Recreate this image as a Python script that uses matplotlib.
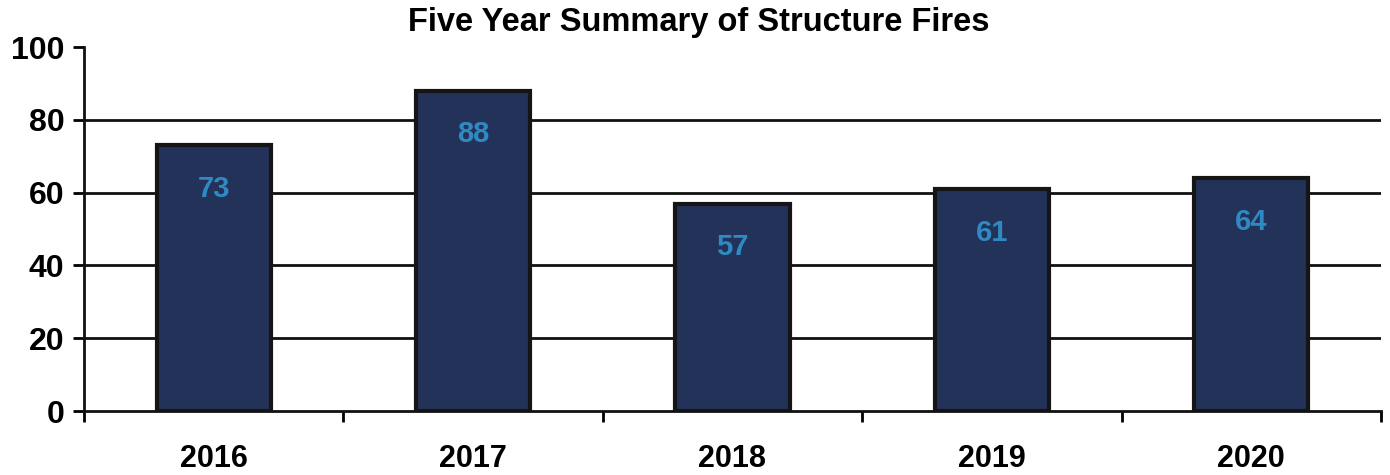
import numpy as np
import matplotlib.pyplot as plt

years = ["2016", "2017", "2018", "2019", "2020"]
fires = [73, 88, 57, 61, 64]
yticks = [0, 20, 40, 60, 80, 100]

plt.rcParams['font.family'] = ['Liberation Sans', 'DejaVu Sans']

fig = plt.figure(figsize=(13.9, 4.75), dpi=100)
ax = fig.add_axes([0.0604, 0.1347, 0.9331, 0.7663])

x = np.arange(len(years))
bars = ax.bar(x, fires, width=0.44, color='#233258', edgecolor='#151515',
              linewidth=3, zorder=3)

for xi, v in zip(x, fires):
    ax.text(xi, v - 12, str(v), ha='center', va='center', fontsize=21,
            fontweight='bold', color='#2f8ac4', zorder=4)

# horizontal grid lines (no line at 100)
for g in yticks[1:-1]:
    ax.axhline(g, color='#111111', linewidth=2, zorder=1)

ax.set_xlim(-0.5, len(years) - 0.5)
ax.set_ylim(0, 100)
ax.set_yticks(yticks)
ax.set_yticklabels([str(t) for t in yticks], fontsize=23, fontweight='bold')

ax.set_xticks(x)
ax.set_xticklabels(years, fontsize=22, fontweight='bold')
ax.tick_params(axis='x', which='major', length=0, pad=24)
ax.set_xticks(np.arange(len(years) + 1) - 0.5, minor=True)
ax.tick_params(axis='x', which='minor', length=8, width=2, direction='out')
ax.tick_params(axis='y', length=8, width=2, direction='out', pad=6)

for s in ['top', 'right']:
    ax.spines[s].set_visible(False)
for s in ['left', 'bottom']:
    ax.spines[s].set_linewidth(2)
    ax.spines[s].set_color('#111111')

fig.text(0.503, 0.953, "Five Year Summary of Structure Fires", ha='center',
         va='center', fontsize=23.5, fontweight='bold')

fig.savefig("out.png", dpi=100)
